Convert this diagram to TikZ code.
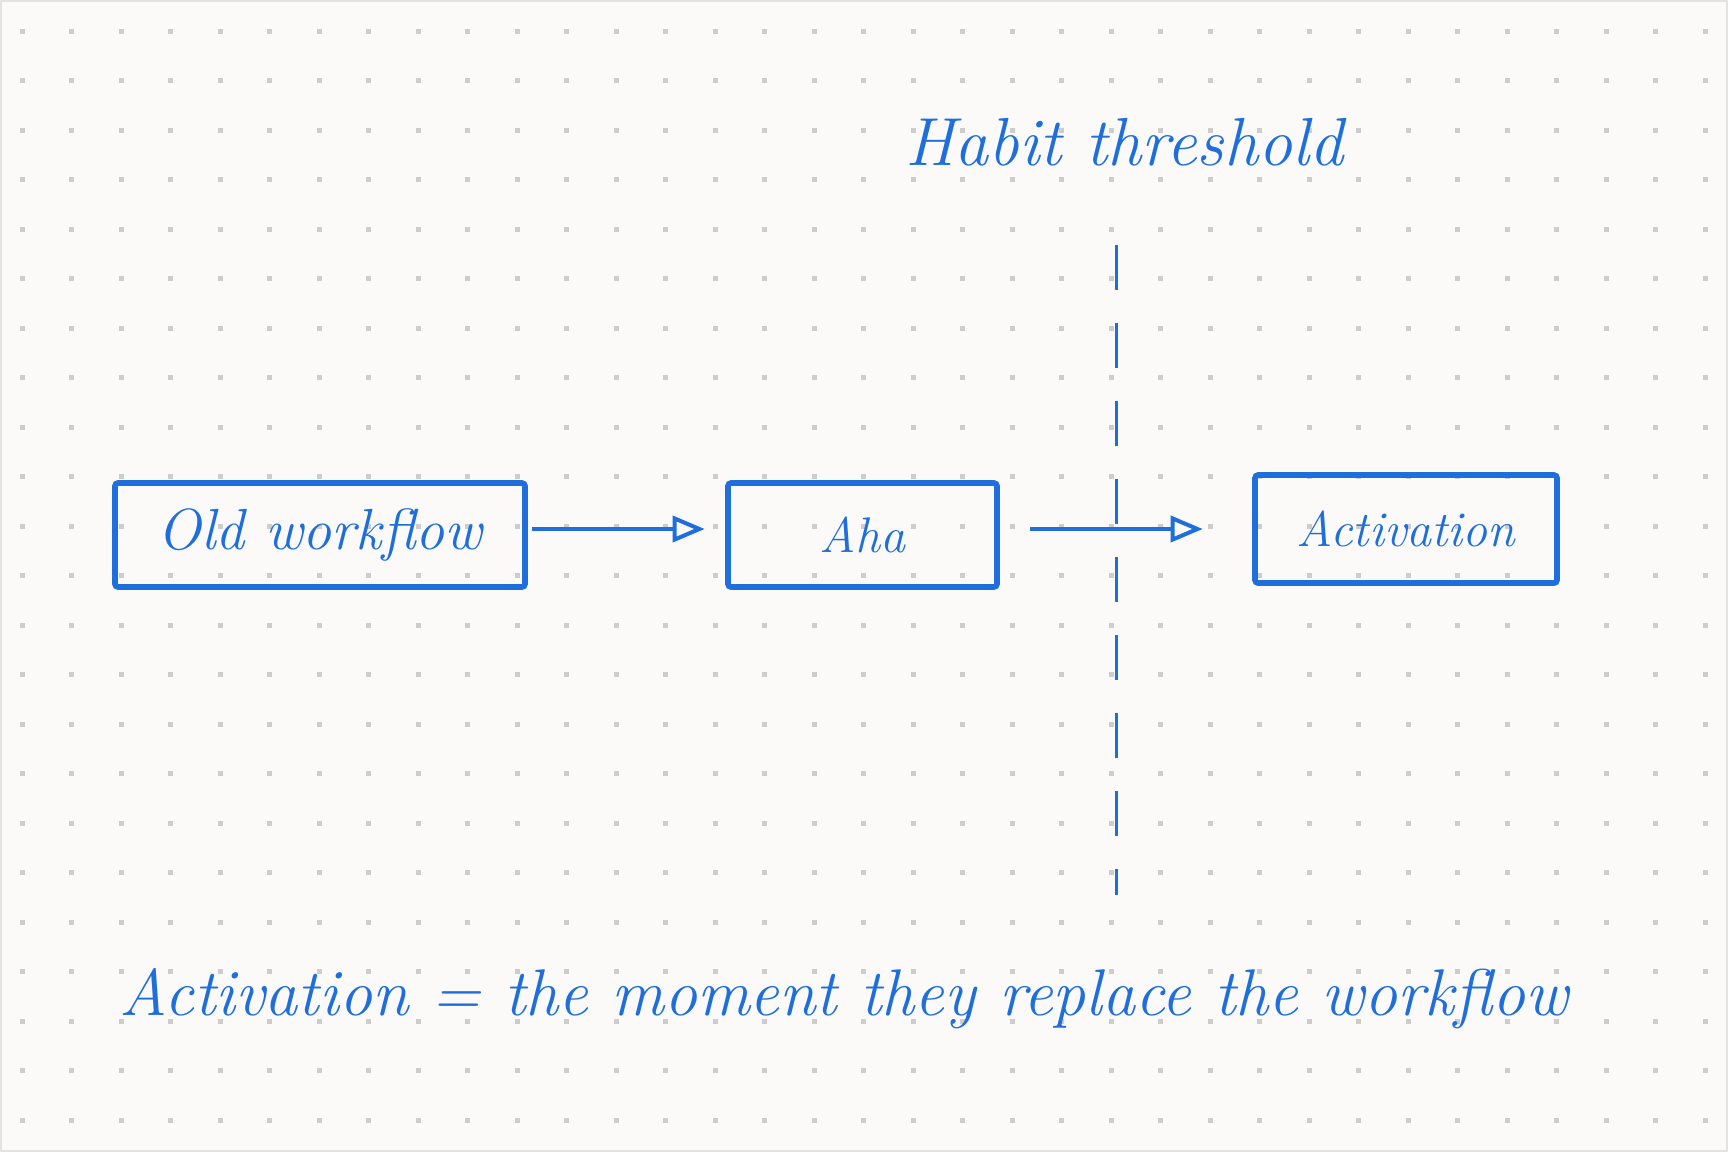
\documentclass[tikz,border=0pt]{standalone}
\usepackage{xcolor}
\usetikzlibrary{arrows.meta}
\definecolor{myblue}{RGB}{30, 110, 220}
\definecolor{mypaper}{RGB}{251, 250, 248}
\definecolor{mydot}{RGB}{205, 205, 205}

\begin{document}
\begin{tikzpicture}[x=0.5pt,y=-0.5pt,
  box/.style={draw=myblue, line width=2.8pt, rounded corners=1.5pt, inner sep=0pt,
    text=myblue, font=\fontsize{25}{30}\selectfont\itshape},
  flow/.style={draw=myblue, line width=2.2pt,
    -{Triangle[open,length=16pt,width=13pt,line width=2pt]}},
  note/.style={text=myblue, anchor=base, inner sep=0pt}]
  \def\gap{49.5}

  %Paper and dot grid
  \useasboundingbox (0,0) rectangle (1728,1152);
  \fill[mypaper] (0,0) rectangle (1728,1152);
  \draw[gray!22, line width=1pt] (1,1) rectangle (1727,1151);
  \foreach \i in {0,...,34}
  {
    \foreach \j in {0,...,22}
      \fill[mydot] ({22+\gap*\i-2.5},{31+\gap*\j-2.5}) rectangle +(5,5);
  }

  %Threshold line
  \node[note, font=\fontsize{34}{40}\selectfont\itshape] (habit) at (1124,165) {Habit threshold};
  \coordinate (thrtop) at (1116,245);
  \coordinate (thrbot) at (1116,895);
  \draw[myblue, line width=1.5pt, dash pattern=on 22.5pt off 16.5pt] (thrtop) -- (thrbot);

  %Boxes
  \node[box, minimum width=205pt, minimum height=52pt, font=\fontsize{29}{34}\selectfont\itshape] (old) at (320,535) {Old workflow};
  \node[box, minimum width=134.5pt, minimum height=52pt] (aha) at (862.5,535) {Aha};
  \node[box, minimum width=151pt, minimum height=54pt] (act) at (1406,529) {Activation};

  %Arrows
  \draw[flow, shorten <=2.25pt, shorten >=10.25pt] ([yshift=3pt]old.east) -- ([yshift=3pt]aha.west);
  \draw[flow, shorten <=15.25pt, shorten >=24.75pt] ([yshift=3pt]aha.east) -- (act.west);

  %Caption
  \node[note, font=\fontsize{33}{38}\selectfont\itshape] (caption) at (844,1015)
    {Activation = the moment they replace the workflow};
\end{tikzpicture}
\end{document}
